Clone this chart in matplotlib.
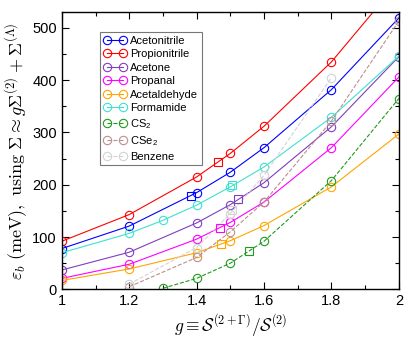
import matplotlib
matplotlib.use('Agg')
import matplotlib.pyplot as plt
from matplotlib.ticker import MultipleLocator

plt.rcParams['font.family'] = ['Liberation Sans', 'DejaVu Sans']
plt.rcParams['mathtext.fontset'] = 'cm'

# data
g_std = [1, 1.2, 1.4, 1.5, 1.6, 1.8, 2]
acetonitrile = [78, 121, 185, 224, 271, 382, 519]
propionitrile = [92, 143, 215, 260, 312, 435, 589]
acetone = [37, 71, 127, 162, 204, 311, 445]
propanal = [21, 48, 96, 128, 167, 271, 406]
acetaldehyde = [17, 39, 70, 93, 122, 196, 297]
g_form = [1, 1.2, 1.3, 1.4, 1.5, 1.6, 1.8, 2]
formamide = [70, 107, 132, 161, 196, 234, 329, 446]
g_cs2 = [1.3, 1.4, 1.5, 1.6, 1.8, 2]
cs2 = [2, 21, 50, 92, 208, 365]
g_cse2 = [1.2, 1.4, 1.5, 1.6, 1.8, 2]
cse2 = [5, 61, 110, 167, 322, 513]
g_benz = [1.2, 1.4, 1.5, 1.6, 1.8]
benzene = [10, 80, 145, 218, 405]
# square markers (one per molecule)
sq_g = [1.383, 1.464, 1.523, 1.469, 1.471, 1.506, 1.554, 1.505]
sq_v = [179, 244, 172, 117, 87, 199, 74, 152]

names = ['Acetonitrile', 'Propionitrile', 'Acetone', 'Propanal', 'Acetaldehyde',
         'Formamide', r'CS$_\mathregular{2}$', r'CSe$_\mathregular{2}$', 'Benzene']
xs = [g_std, g_std, g_std, g_std, g_std, g_form, g_cs2, g_cse2, g_benz]
ys = [acetonitrile, propionitrile, acetone, propanal, acetaldehyde, formamide, cs2, cse2, benzene]
colors = ['#0000ff', '#ff0000', '#7f3fbf', '#ff00ff', '#ffa500', '#40e0d0',
          '#1f9a1f', '#bc8f8f', '#d3d3d3']
styles = ['-', '-', '-', '-', '-', '-', '--', '--', '--']
sq_colors = colors[0:7] + [colors[8]]

fig = plt.figure(figsize=(4.15, 3.4), dpi=100)
ax = fig.add_axes([0.149, 0.149, 0.812, 0.815])
for x, y, c, ls, name in zip(xs, ys, colors, styles, names):
    ax.plot(x, y, ls, color=c, lw=0.8, marker='o', ms=6, mfc='none', mew=0.8, label=name)
for x, y, c in zip(sq_g, sq_v, sq_colors):
    ax.plot(x, y, 's', color=c, ms=5.5, mfc='none', mew=0.8)

ax.set_xlim(1, 2)
ax.set_ylim(0, 530)
ax.xaxis.set_major_locator(MultipleLocator(0.2))
ax.xaxis.set_minor_locator(MultipleLocator(0.1))
ax.yaxis.set_major_locator(MultipleLocator(100))
ax.yaxis.set_minor_locator(MultipleLocator(50))
ax.set_xticks([1, 1.2, 1.4, 1.6, 1.8, 2])
ax.set_xticklabels(['1', '1.2', '1.4', '1.6', '1.8', '2'])
ax.tick_params(which='both', direction='in', top=True, right=True, labelsize=10.5, width=0.8)
ax.tick_params(which='major', length=5)
ax.tick_params(which='minor', length=3)
for sp in ax.spines.values():
    sp.set_linewidth(1.0)
ax.set_xlabel(r'$g \equiv \mathcal{S}^{(2+\Gamma)}/\mathcal{S}^{(2)}$', fontsize=12.5, labelpad=3)
ax.set_ylabel(r'$\varepsilon_b\ \mathrm{(meV),\ using}\ \Sigma \approx g\Sigma^{(2)} + \Sigma^{(\Lambda)}$',
              fontsize=13, labelpad=2)

leg = ax.legend(loc='upper left', bbox_to_anchor=(0.113, 0.928), fontsize=8, numpoints=2,
                handlelength=2.1, handletextpad=0.35, labelspacing=0.32, borderpad=0.3,
                borderaxespad=0, fancybox=False, framealpha=1)
leg.get_frame().set_edgecolor('#777777')
leg.get_frame().set_linewidth(0.8)

plt.savefig('out.png', dpi=100)
